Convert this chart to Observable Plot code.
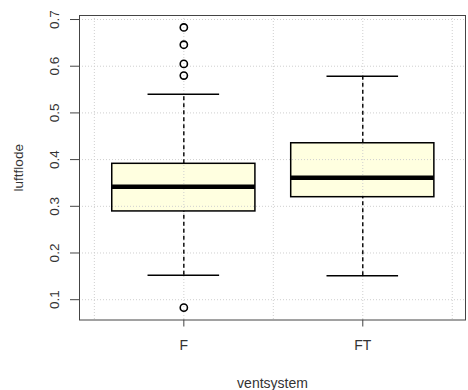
<!DOCTYPE html>
<html>
<head>
<meta charset="utf-8">
<script src="https://cdn.jsdelivr.net/npm/d3@7"></script>
<script src="https://cdn.jsdelivr.net/npm/@observablehq/plot@0.6"></script>
<style>
  html, body { margin: 0; padding: 0; background: white; }
</style>
</head>
<body>
<div id="chart"></div>
<script>
const categories = ["F", "FT"];
const q1Values = [0.289, 0.3195];
const medianValues = [0.342, 0.361];
const q3Values = [0.391, 0.435];
const whiskerLow = [0.1525, 0.151];
const whiskerHigh = [0.540, 0.5786];
const outlierGroups = ["F", "F", "F", "F", "F"];
const outlierValues = [0.683, 0.646, 0.605, 0.580, 0.083];
const yTicks = [0.1, 0.2, 0.3, 0.4, 0.5, 0.6, 0.7];
const xGrid = [0.5, 1, 1.5, 2, 2.5];

const boxes = categories.map((c, i) => ({
  cat: c, pos: i + 1,
  q1: q1Values[i], med: medianValues[i], q3: q3Values[i],
  lo: whiskerLow[i], hi: whiskerHigh[i]
}));
const outliers = outlierGroups.map((g, i) => ({ pos: categories.indexOf(g) + 1, v: outlierValues[i] }));

const half = 0.4, cap = 0.2;

const chart = Plot.plot({
  width: 468,
  height: 390,
  marginLeft: 79,
  marginRight: 3,
  marginTop: 15,
  marginBottom: 70.5,
  style: { fontFamily: "'Liberation Sans', Arial, sans-serif", fontSize: "14px", background: "white", color: "#222" },
  x: { domain: [0.417, 2.574], axis: null },
  y: { domain: [0.0565, 0.7086], axis: null },
  marks: [
    Plot.rect(boxes, { x1: d => d.pos - half, x2: d => d.pos + half, y1: "q1", y2: "q3", fill: "#FFFFE0" }),
    Plot.ruleY(yTicks, { stroke: "#cfcfcf", strokeDasharray: "1,2" }),
    Plot.ruleX(xGrid, { stroke: "#cfcfcf", strokeDasharray: "1,2" }),
    Plot.ruleX(boxes, { x: "pos", y1: "q3", y2: "hi", stroke: "black", strokeWidth: 1.4, strokeDasharray: "4,3" }),
    Plot.ruleX(boxes, { x: "pos", y1: "lo", y2: "q1", stroke: "black", strokeWidth: 1.4, strokeDasharray: "4,3" }),
    Plot.ruleY(boxes, { y: "hi", x1: d => d.pos - cap, x2: d => d.pos + cap, stroke: "black", strokeWidth: 1.5 }),
    Plot.ruleY(boxes, { y: "lo", x1: d => d.pos - cap, x2: d => d.pos + cap, stroke: "black", strokeWidth: 1.5 }),
    Plot.rect(boxes, { x1: d => d.pos - half, x2: d => d.pos + half, y1: "q1", y2: "q3", fill: "none", stroke: "black", strokeWidth: 1.5 }),
    Plot.ruleY(boxes, { y: "med", x1: d => d.pos - half, x2: d => d.pos + half, stroke: "black", strokeWidth: 4.5 }),
    Plot.dot(outliers, { x: "pos", y: "v", r: 3.6, stroke: "black", strokeWidth: 1.6, fill: "none" }),
    Plot.frame({ stroke: "#444" }),
    Plot.axisY(yTicks, {
      anchor: "left", tickSize: 9, tickRotate: -90, tickPadding: 12, fontSize: 13.5,
      tickFormat: d => d.toFixed(1), stroke: "#444", fill: "#333",
      label: "luftflode", labelAnchor: "center", labelOffset: 66, labelArrow: "none"
    }),
    Plot.axisX([1, 2], {
      anchor: "bottom", tickSize: 7, tickPadding: 13, fontSize: 14,
      tickFormat: d => categories[d - 1], stroke: "#444", fill: "#333",
      label: "ventsystem", labelAnchor: "center", labelOffset: 68, labelArrow: "none"
    })
  ]
});
document.getElementById("chart").appendChild(chart);
</script>
</body>
</html>
